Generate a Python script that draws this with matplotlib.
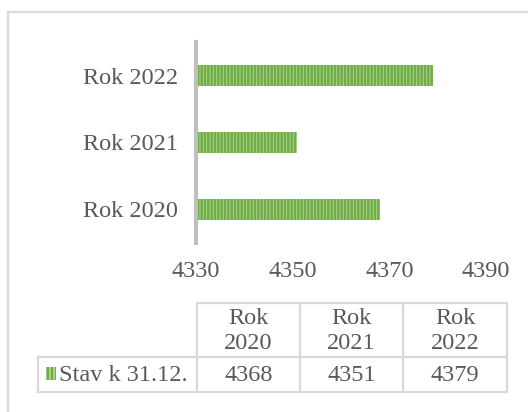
import matplotlib.pyplot as plt
from matplotlib.lines import Line2D

plt.rcParams['font.family'] = ['Liberation Serif', 'DejaVu Serif']
plt.rcParams['hatch.linewidth'] = 1.8

cats = ['Rok 2020', 'Rok 2021', 'Rok 2022']
head = ['Rok\n2020', 'Rok\n2021', 'Rok\n2022']
vals = [4368, 4351, 4379]
series = 'Stav k 31.12.'
xticks = [4330, 4350, 4370, 4390]
txt = '#595959'
grey = '#d9d9d9'
fs = 17.5

fig = plt.figure(figsize=(5.28, 4.12), dpi=100)
W, H = 528, 412

ax = fig.add_axes([196 / W, 1 - 243 / H, 290 / W, 201 / H])
ax.barh(range(len(cats)), [v - 4330 for v in vals], left=4330, height=0.31,
        color='#b5d99c', edgecolor='#70ad47', hatch='|||||', linewidth=0)
ax.set_xlim(4330, 4390)
ax.set_ylim(-0.5, 2.5)
ax.set_yticks(range(len(cats)))
ax.set_yticklabels(cats, fontsize=fs, color=txt)
ax.set_xticks(xticks)
ax.set_xticklabels([str(t) for t in xticks], fontsize=fs, color=txt)
ax.tick_params(length=0, pad=13, axis='x')
ax.tick_params(length=0, pad=13, axis='y')
for s in ['top', 'right', 'bottom']:
    ax.spines[s].set_visible(False)
ax.spines['left'].set_color('#bfbfbf')
ax.spines['left'].set_linewidth(3)

# overlay in pixel coords for table and border
ov = fig.add_axes([0, 0, 1, 1], zorder=-1)
ov.set_xlim(0, W)
ov.set_ylim(H, 0)
ov.axis('off')

def ln(x0, y0, x1, y1, c=grey, lw=1.6):
    ov.add_line(Line2D([x0, x1], [y0, y1], color=c, lw=lw))

ln(8, 12, 528, 12)
ln(8, 12, 8, 412)

cols = [197, 300, 403, 507]
top, mid, bot = 303, 357, 392
left = 38
ln(cols[0], top, cols[-1], top)
ln(left, mid, cols[-1], mid)
ln(left, bot, cols[-1], bot)
ln(left, mid, left, bot)
for c in cols:
    ln(c, top, c, bot)

for i in range(len(cats)):
    cx = (cols[i] + cols[i + 1]) / 2
    ov.text(cx, (top + mid) / 2 + 1, head[i], ha='center', va='center',
            fontsize=fs, color=txt, linespacing=1.2)
    ov.text(cx, (mid + bot) / 2 + 1, str(vals[i]), ha='center', va='center',
            fontsize=fs, color=txt)

ov.add_patch(plt.Rectangle((46, 367), 10, 13, facecolor='#b5d99c',
                           edgecolor='#70ad47', hatch='||||', linewidth=0))
ov.text(59, (mid + bot) / 2 + 1, series, ha='left', va='center',
        fontsize=fs, color=txt)

fig.savefig('out.png', dpi=100)
